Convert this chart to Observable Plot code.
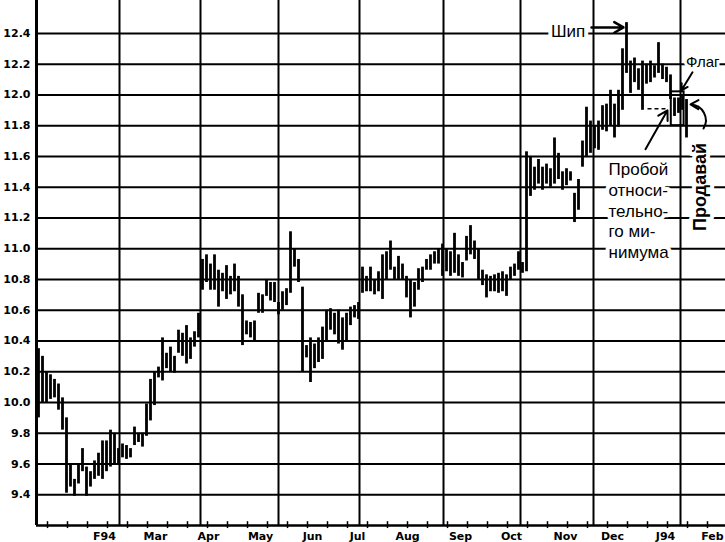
<!DOCTYPE html>
<html><head><meta charset="utf-8">
<script src="https://cdn.jsdelivr.net/npm/d3@7"></script>
<script src="https://cdn.jsdelivr.net/npm/@observablehq/plot@0.6"></script>
<style>body{margin:0;background:#fff} svg{display:block}</style>
</head><body><div id="chart"></div>
<script>
// daily high / low (one bar per slot)
const high = [
10.35,10.30,10.20,10.18,10.15,10.12,10.03,9.90,9.60,9.50,
9.60,9.70,9.58,9.55,9.62,9.67,9.75,9.75,9.82,9.80,
9.70,9.73,9.72,9.70,9.84,9.80,9.80,9.99,10.15,10.20,
10.23,10.42,10.32,10.36,10.30,10.47,10.45,10.50,10.42,10.46,
10.58,10.93,10.96,10.90,10.96,10.86,10.84,10.89,10.82,10.90,
10.82,10.70,10.53,10.52,10.53,10.71,10.70,10.80,10.78,10.78,
10.65,10.72,10.74,11.11,11.00,10.93,10.75,10.37,10.42,10.38,
10.42,10.49,10.60,10.61,10.58,10.60,10.55,10.58,10.62,10.63,
10.65,10.88,10.82,10.88,10.80,10.85,10.96,10.98,11.05,10.88,
10.95,10.90,10.82,10.80,10.78,10.87,10.88,10.93,10.96,10.98,
11.00,11.03,11.00,10.98,11.10,10.96,10.91,11.08,11.15,11.05,
11.00,10.86,10.83,10.82,10.83,10.84,10.85,10.83,10.88,10.90,
10.98,10.91,11.63,11.60,11.53,11.58,11.53,11.55,11.52,11.72,
11.62,11.50,11.52,11.50,11.36,11.45,11.70,11.92,11.83,11.80,
11.83,11.93,11.94,12.03,11.94,12.03,12.30,12.47,12.22,12.24,
12.17,12.22,12.20,12.22,12.19,12.34,12.20,12.18,12.13,11.98,
11.98,12.00,11.97
];
const low = [
9.90,10.00,10.00,10.02,10.03,9.95,9.82,9.41,9.45,9.39,
9.47,9.55,9.39,9.45,9.50,9.52,9.50,9.55,9.58,9.60,
9.60,9.64,9.63,9.64,9.72,9.74,9.71,9.78,9.88,9.98,
10.16,10.14,10.22,10.20,10.19,10.32,10.30,10.25,10.28,10.36,
10.42,10.73,10.78,10.73,10.73,10.62,10.72,10.67,10.70,10.72,
10.62,10.37,10.44,10.42,10.39,10.58,10.58,10.69,10.66,10.65,
10.57,10.60,10.63,10.71,10.88,10.78,10.20,10.29,10.13,10.22,
10.26,10.28,10.40,10.47,10.44,10.38,10.34,10.40,10.50,10.55,
10.54,10.71,10.72,10.72,10.70,10.72,10.67,10.80,10.86,10.80,
10.80,10.80,10.68,10.55,10.62,10.73,10.78,10.86,10.86,10.90,
10.90,10.82,10.85,10.82,10.84,10.82,10.81,10.92,10.96,10.93,
10.80,10.76,10.68,10.72,10.72,10.71,10.72,10.69,10.80,10.82,
10.86,10.84,10.85,11.34,11.38,11.42,11.38,11.42,11.40,11.42,
11.45,11.38,11.41,11.44,11.17,11.25,11.53,11.60,11.62,11.65,
11.64,11.77,11.76,11.80,11.72,11.79,11.90,12.14,12.01,12.08,
12.03,11.90,12.07,12.08,12.11,12.14,12.10,12.08,11.97,11.86,
11.88,11.90,11.72
];
const yTicks = [9.4,9.6,9.8,10.0,10.2,10.4,10.6,10.8,11.0,11.2,11.4,11.6,11.8,12.0,12.2,12.4];
const monthLabels = ["F94","Mar","Apr","May","Jun","Jul","Aug","Sep","Oct","Nov","Dec","J94","Feb"];
const monthPos = [17,29.75,43,56,69,80.25,92.75,106,118.75,132.25,144,157.25,169];
const gridX = [20.75,41,60.5,80.75,101.75,121,139.25,161];
const noteLines = ["Пробой","относи-","тельно-","го ми-","нимума"];

const bars = high.map((h, i) => ({i: i + 0.5, high: h, low: low[i]}));
const labelMap = new Map(monthPos.map((p, i) => [p, monthLabels[i]]));
const halo = {fill: "black", stroke: "white", strokeWidth: 8, fontFamily: "Liberation Sans", fontSize: 17};

const chart = Plot.plot({
  width: 725, height: 542,
  marginLeft: 36, marginRight: 0, marginTop: 0, marginBottom: 17,
  x: {domain: [0, 172.25], label: null},
  y: {domain: [9.2, 12.614], label: null},
  marks: [
    Plot.ruleY(yTicks, {stroke: "black", strokeWidth: 2}),
    Plot.ruleX(gridX, {stroke: "black", strokeWidth: 2}),
    Plot.ruleX(d3.range(2.75, 172, 5), {y1: 9.18, y2: 9.225, stroke: "black", strokeWidth: 1.5}),
    Plot.ruleX([0], {stroke: "black", strokeWidth: 3}),
    Plot.ruleY([9.2], {stroke: "black", strokeWidth: 2.5}),
    Plot.axisY({ticks: yTicks, label: null, tickSize: 0, tickPadding: 6, tickFormat: d => d.toFixed(1),
      fontSize: 11, fontWeight: "bold", fontFamily: "DejaVu Sans", fill: "black"}),
    Plot.axisX({ticks: monthPos, label: null, tickSize: 0, tickPadding: 7, tickFormat: d => labelMap.get(d),
      fontSize: 11, fontWeight: "bold", fontFamily: "DejaVu Sans", fill: "black"}),
    Plot.ruleX(bars, {x: "i", y1: "low", y2: "high", stroke: "black", strokeWidth: 2.8}),
    // flag box and relative-low dashed line
    Plot.rect([0], {x1: 158.7, x2: 161.9, y1: 11.80, y2: 12.02, fill: "none", stroke: "black", strokeWidth: 2}),
    Plot.link([0], {x1: 152.75, x2: 157.75, y1: 11.91, y2: 11.91, stroke: "black", strokeWidth: 1.5, strokeDasharray: "4,3"}),
    // labels
    Plot.text(["Шип"], {x: 132.9, y: 12.41, ...halo}),
    Plot.text(["Флаг"], {x: 162.4, y: 12.214, textAnchor: "start", ...halo, strokeWidth: 6, fontSize: 15}),
    Plot.text([noteLines.join("\n")], {x: 143, y: 11.574, textAnchor: "start", lineAnchor: "top", lineHeight: 1.22, ...halo}),
    Plot.text(["Продавай"], {x: 166, y: 11.402, rotate: -90, ...halo, fontWeight: "bold", fontSize: 18}),
    // arrows
    Plot.arrow([0], {x1: 138.75, y1: 12.439, x2: 146.75, y2: 12.439, stroke: "black", strokeWidth: 2.5, headLength: 9}),
    Plot.arrow([0], {x1: 164, y1: 12.147, x2: 161.25, y2: 12.03, stroke: "black", strokeWidth: 2, headLength: 8}),
    Plot.arrow([0], {x1: 152.25, y1: 11.647, x2: 157.75, y2: 11.9, stroke: "black", strokeWidth: 2, headLength: 8}),
    Plot.arrow([0], {x1: 166.75, y1: 11.782, x2: 163.5, y2: 11.938, bend: -60, stroke: "black", strokeWidth: 2, headLength: 8})
  ]
});
document.getElementById("chart").append(chart);
</script>
</body></html>
